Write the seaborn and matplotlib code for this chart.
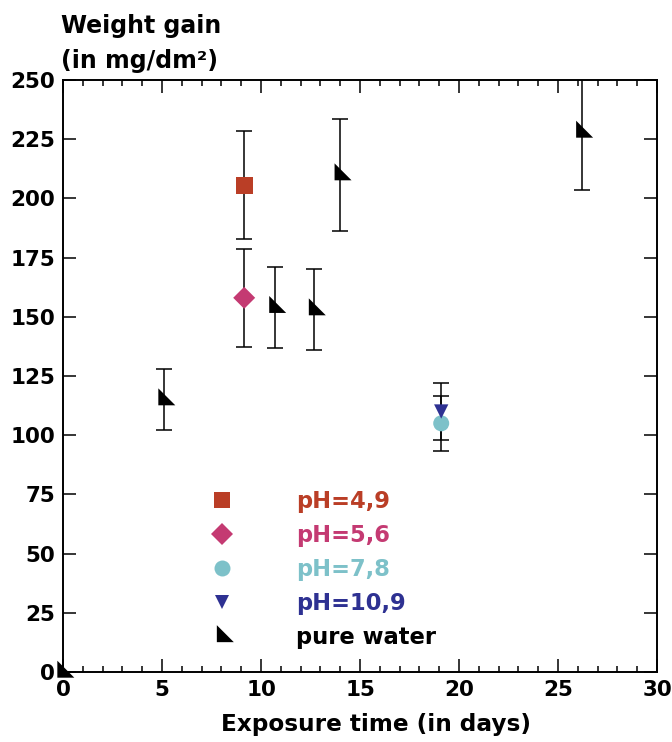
import matplotlib
matplotlib.use('Agg')
import matplotlib.pyplot as plt
from matplotlib.lines import Line2D
from matplotlib.ticker import MultipleLocator
import seaborn as sns

# pure water series (days, mg/dm2, error)
water_days = [0, 5.1, 10.7, 12.7, 14.0, 26.2]
water_gain = [0, 115, 154, 153, 210, 228]
water_err = [0, 13, 17, 17, 23.6, 24.5]

# pH series
ph_labels = ['pH=4,9', 'pH=5,6', 'pH=7,8', 'pH=10,9']
ph_days = [9.15, 9.15, 19.1, 19.1]
ph_gain = [205.5, 158, 105, 110]
ph_err = [22.8, 20.8, 11.5, 12.0]

ph_colors = ['#BA3E26', '#C43A72', '#7DC1C9', '#2E3192']
ph_markers = ['s', 'D', 'o', 'v']
ph_sizes = [12.2, 11.2, 11.5, 10.3]  # marker sizes in points

# right-angled triangle, centroid at origin
water_marker = [(-1, 2), (-1, -1), (2, -1), (-1, 2)]
water_size = 16.3

sns.set_style('ticks')
plt.rcParams['font.family'] = ['DejaVu Sans']
plt.rcParams['font.weight'] = 'bold'
plt.rcParams['text.color'] = 'black'
plt.rcParams['axes.labelcolor'] = 'black'
plt.rcParams['xtick.color'] = 'black'
plt.rcParams['ytick.color'] = 'black'

fig = plt.figure(figsize=(6.72, 7.42), dpi=100)
ax = fig.add_axes([0.09375, 0.0943, 0.884, 0.798])

# error bars first, so markers sit on top
ax.errorbar(water_days, water_gain, yerr=water_err, fmt='none', ecolor='black',
            elinewidth=1.1, capsize=5.8, capthick=1.1, zorder=2)
ax.errorbar(ph_days, ph_gain, yerr=ph_err, fmt='none', ecolor='black',
            elinewidth=1.1, capsize=5.8, capthick=1.1, zorder=2)

for i in range(len(ph_labels)):
    sns.scatterplot(x=[ph_days[i]], y=[ph_gain[i]], color=ph_colors[i],
                    marker=ph_markers[i], s=ph_sizes[i] ** 2, linewidth=0,
                    edgecolor='none', ax=ax, zorder=3)

sns.scatterplot(x=water_days, y=water_gain, color='black', marker=water_marker,
                s=water_size ** 2, linewidth=0, edgecolor='none', ax=ax,
                zorder=3, clip_on=False)

ax.set_xlim(0, 30)
ax.set_ylim(0, 250)
ax.xaxis.set_major_locator(MultipleLocator(5))
ax.xaxis.set_minor_locator(MultipleLocator(1))
ax.yaxis.set_major_locator(MultipleLocator(25))

for side in ['top', 'right', 'bottom', 'left']:
    ax.spines[side].set_visible(True)
    ax.spines[side].set_linewidth(1.4)
    ax.spines[side].set_color('black')

ax.tick_params(which='both', direction='in', top=True, right=True, color='black')
ax.tick_params(which='major', length=9.4, width=1.1)
ax.tick_params(which='minor', length=4.3, width=1.1)
ax.tick_params(axis='x', which='major', labelsize=15.5, pad=6)
ax.tick_params(axis='y', which='major', labelsize=15.5, pad=5.5)
for lab in ax.get_xticklabels() + ax.get_yticklabels():
    lab.set_fontweight('bold')

ax.set_xlabel('Exposure time (in days)', fontsize=16.7, fontweight='bold')
ax.xaxis.set_label_coords(0.527, -0.0688)
ax.set_ylabel('')
ax.text(-0.003, 1.0118, 'Weight gain\n(in mg/dm²)', transform=ax.transAxes,
        ha='left', va='bottom', fontsize=17, fontweight='bold', linespacing=1.57)

handles = []
for i in range(len(ph_labels)):
    handles.append(Line2D([], [], linestyle='none', marker=ph_markers[i],
                          markersize=ph_sizes[i], color=ph_colors[i],
                          markeredgewidth=0))
handles.append(Line2D([], [], linestyle='none', marker=water_marker,
                      markersize=water_size, color='black', markeredgewidth=0))
labels = ph_labels + ['pure water']
ax.legend(handles, labels, loc='upper left', bbox_to_anchor=(0.2485, 0.308),
          frameon=False, borderpad=0, borderaxespad=0, handlelength=1.0,
          handletextpad=2.76, labelspacing=0.49,
          labelcolor=ph_colors + ['black'],
          prop={'size': 16.3, 'weight': 'bold'})

fig.savefig('out.png', dpi=100)
